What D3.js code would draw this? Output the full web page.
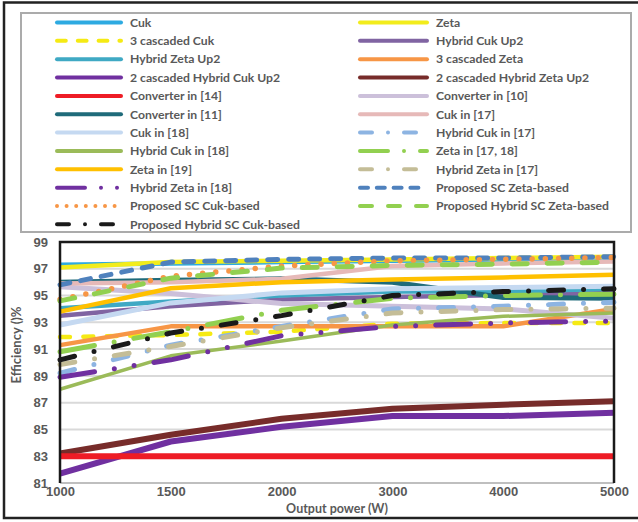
<!DOCTYPE html>
<html>
<head>
<meta charset="utf-8">
<style>
  body { margin: 0; background: #fff; }
  svg { display: block; font-family: Lato, "Open Sans", sans-serif; }
  .lbl { fill: #595959; font-weight: bold; }
</style>
</head>
<body>
<svg width="638" height="522"></svg>
<script src="https://cdn.jsdelivr.net/npm/d3@7"></script>
<script>
// x categories (W) and y ticks (%)
var powers = ["1000", "1500", "2000", "3000", "4000", "5000"];
var yTicks = [81, 83, 85, 87, 89, 91, 93, 95, 97, 99];

// efficiency series
var cuk            = [97.3, 97.4, 97.5, 97.6, 97.7, 97.8];
var zeta           = [97.1, 97.5, 97.6, 97.7, 97.8, 97.9];
var cuk3           = [91.9, 92.05, 92.3, 92.9, 92.95, 92.95];
var hybCukUp2      = [93.5, 94.2, 94.7, 94.9, 95.05, 95.2];
var hybZetaUp2     = [94.05, 94.55, 95.0, 95.3, 95.3, 95.5];
var zeta3          = [91.3, 92.7, 92.7, 92.7, 92.7, 94.0];
var cas2HybCukUp2  = [81.7, 84.1, 85.2, 86.0, 86.0, 86.25];
var cas2HybZetaUp2 = [83.2, 84.6, 85.8, 86.55, 86.85, 87.1];
var conv14         = [83.0, 83.0, 83.0, 83.0, 83.0, 83.0];
var conv10         = [95.65, 95.15, 94.4, 94.2, 94.0, 93.3];
var conv11         = [96.0, 96.15, 96.25, 96.0, 94.85, 94.8];
var cuk17          = [95.9, 96.0, 96.25, 97.2, 97.4, 97.55];
var cuk18          = [92.8, 94.45, 95.2, 95.5, 95.6, 95.7];
var hybCuk17       = [89.2, 91.3, 92.7, 94.0, 94.2, 94.5];
var hybCuk18       = [88.0, 90.5, 91.6, 92.8, 93.45, 93.7];
var zeta1718       = [90.8, 92.3, 93.9, 94.8, 95.0, 95.1];
var zeta19         = [93.8, 95.55, 96.0, 96.2, 96.35, 96.55];
var hybZeta17      = [89.85, 91.2, 92.6, 93.7, 93.95, 94.05];
var hybZeta18      = [88.9, 90.2, 92.0, 92.7, 92.95, 93.1];
var propScZeta     = [95.8, 97.5, 97.7, 97.8, 97.8, 97.9];
var propScCuk      = [94.7, 96.45, 97.2, 97.6, 97.7, 97.85];
var propHybScZeta  = [94.6, 96.3, 97.05, 97.25, 97.35, 97.5];
var propHybScCuk   = [90.2, 92.2, 93.5, 95.0, 95.3, 95.5];

var names = ["Cuk", "Zeta", "3 cascaded Cuk", "Hybrid Cuk Up2", "Hybrid Zeta Up2",
  "3 cascaded Zeta", "2 cascaded Hybrid Cuk Up2", "2 cascaded Hybrid Zeta Up2",
  "Converter in [14]", "Converter in [10]", "Converter in [11]", "Cuk in [17]",
  "Cuk in [18]", "Hybrid Cuk in [17]", "Hybrid Cuk in [18]", "Zeta in [17, 18]",
  "Zeta in [19]", "Hybrid Zeta in [17]", "Hybrid Zeta in [18]",
  "Proposed SC Zeta-based", "Proposed SC Cuk-based", "Proposed Hybrid SC Zeta-based",
  "Proposed Hybrid SC Cuk-based"];

var values = [cuk, zeta, cuk3, hybCukUp2, hybZetaUp2, zeta3, cas2HybCukUp2, cas2HybZetaUp2,
  conv14, conv10, conv11, cuk17, cuk18, hybCuk17, hybCuk18, zeta1718, zeta19,
  hybZeta17, hybZeta18, propScZeta, propScCuk, propHybScZeta, propHybScCuk];

var colors = ["#2DAAE1", "#F2EC1C", "#F5EA14", "#8064A2", "#3FA9C4",
  "#F79646", "#7030A0", "#772C2A", "#EE1C25", "#CCC0DA", "#1F6B7A", "#E6B9B8",
  "#C5D9F1", "#8DB4E2", "#9BBB59", "#92D050", "#FFC000", "#C4BD97", "#7030A0",
  "#4F81BD", "#F79646", "#92D050", "#1A1A1A"];

// line style per series
var styles = ["solid", "solid", "dash", "solid", "solid", "solid", "solid", "solid",
  "solid", "solid", "solid", "solid", "solid", "dashDot", "solid", "lgDashDot",
  "solid", "dashDot", "lgDashDotDot", "sysDash", "roundDot", "lgDash", "dashDot"];

var widths = [4.5, 4.5, 4.5, 4.5, 4.5, 4.5, 6, 6, 6, 5, 5, 4.5, 5, 5, 3.5, 5,
  4.5, 5, 5, 5, 5.5, 5, 5];

// dash patterns in multiples of width, for round caps
function dash(style, w) {
  var p = {
    solid: null,
    dash: [2.2, 3],
    sysDash: [2, 2.2],
    dashDot: [3, 4, 0, 4],
    lgDash: [3, 4],
    lgDashDot: [7, 4, 0, 4],
    lgDashDotDot: [7, 4, 0, 4, 0, 4],
    roundDot: [0, 2.4]
  }[style];
  return p ? p.map(function(k) { return k * w; }).join(",") : null;
}

var svg = d3.select("svg");

// outer frame
svg.append("rect")
    .attr("x", 4).attr("y", 2.5).attr("width", 640).attr("height", 515.5)
    .attr("fill", "none").attr("stroke", "#222").attr("stroke-width", 2.5);

// legend box
svg.append("rect")
    .attr("x", 21).attr("y", 13).attr("width", 610).attr("height", 219)
    .attr("fill", "#fff").attr("stroke", "#ABABAB").attr("stroke-width", 2);

var x = d3.scalePoint().domain(powers).range([60, 614]);
var y = d3.scaleLinear().domain([81, 99]).range([483, 242]);

// gridlines
svg.append("g").selectAll("line")
  .data(yTicks.filter(function(d) { return d > 81 && d < 99; }))
  .enter().append("line")
    .attr("x1", 60).attr("x2", 614)
    .attr("y1", function(d) { return y(d); })
    .attr("y2", function(d) { return y(d); })
    .attr("stroke", "#D9D9D9").attr("stroke-width", 2);

// x axis line
svg.append("line")
    .attr("x1", 60).attr("x2", 614).attr("y1", y(81)).attr("y2", y(81))
    .attr("stroke", "#BFBFBF").attr("stroke-width", 2);

var line = d3.line()
    .x(function(d, i) { return x(powers[i]); })
    .y(function(d) { return y(d); });

var series = values.map(function(v, i) {
  return {name: names[i], v: v, color: colors[i], style: styles[i], w: widths[i]};
});

svg.append("g").selectAll("path")
  .data(series)
  .enter().append("path")
    .attr("d", function(d) { return line(d.v); })
    .attr("fill", "none")
    .attr("stroke", function(d) { return d.color; })
    .attr("stroke-width", function(d) { return d.w; })
    .attr("stroke-linecap", function(d) { return d.style == "solid" ? "butt" : "round"; })
    .attr("stroke-linejoin", "round")
    .attr("stroke-dasharray", function(d) { return dash(d.style, d.w); });

// plot border (top, left, right)
svg.append("path")
    .attr("d", "M60," + y(81) + "V" + y(99) + "H614V" + y(81))
    .attr("fill", "none").attr("stroke", "#1A1A1A").attr("stroke-width", 2.5);

// axes
var yAxis = svg.append("g")
    .attr("transform", "translate(60,0)")
    .call(d3.axisLeft(y).tickValues(yTicks).tickSize(0).tickPadding(12));
yAxis.select(".domain").remove();
yAxis.selectAll("text").attr("class", "lbl").style("font-size", "13px");

var xAxis = svg.append("g")
    .attr("transform", "translate(0," + y(81) + ")")
    .call(d3.axisBottom(x).tickSize(0).tickPadding(4));
xAxis.select(".domain").remove();
xAxis.selectAll("text").attr("class", "lbl").style("font-size", "13px");

svg.append("text")
    .attr("class", "lbl")
    .attr("x", 337).attr("y", 513)
    .attr("text-anchor", "middle")
    .style("font-size", "12.5px")
    .text("Output power (W)");

svg.append("text")
    .attr("class", "lbl")
    .attr("transform", "translate(21,345) rotate(-90)")
    .attr("text-anchor", "middle")
    .style("font-size", "13px")
    .text("Efficiency ()%");

// legend, two columns, row-major
var leg = svg.append("g").selectAll("g")
  .data(series)
  .enter().append("g")
    .attr("transform", function(d, i) {
      return "translate(" + (i % 2 ? 358 : 55) + "," + (22.5 + Math.floor(i / 2) * 18.35) + ")";
    });

leg.append("line")
    .attr("x1", 2)
    .attr("x2", function(d, i) { return (i % 2 ? 71 : 68) - 2; })
    .attr("stroke", function(d) { return d.color; })
    .attr("stroke-width", 4)
    .attr("stroke-linecap", "round")
    .attr("stroke-dasharray", function(d) { return dash(d.style, 4); });

leg.append("text")
    .attr("class", "lbl")
    .attr("x", function(d, i) { return i % 2 ? 78 : 75; })
    .attr("dy", "0.35em")
    .style("font-size", "12.2px")
    .text(function(d) { return d.name; });
</script>
</body>
</html>
